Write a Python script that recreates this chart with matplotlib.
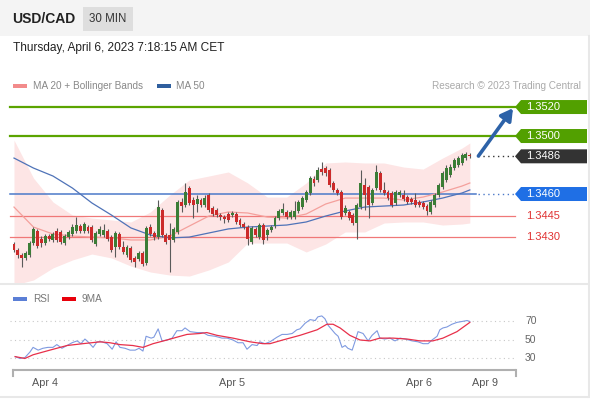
import matplotlib.pyplot as plt
from matplotlib import transforms
from matplotlib.patches import Polygon, Rectangle

plt.rcParams['font.family'] = ['Liberation Sans', 'DejaVu Sans']

# ---- candles (30 min bars) ----
opens = [1.34255, 1.34214, 1.34179, 1.34159, 1.34179, 1.34262, 1.34345, 1.34290, 1.34262, 1.34310,
         1.34283, 1.34345, 1.34338, 1.34262, 1.34303, 1.34324, 1.34345, 1.34379, 1.34345, 1.34372,
         1.34372, 1.34255, 1.34324, 1.34317, 1.34345, 1.34303, 1.34234, 1.34324, 1.34234, 1.34179,
         1.34228, 1.34159, 1.34152, 1.34193, 1.34124, 1.34372, 1.34331, 1.34303, 1.34490, 1.34317,
         1.34317, 1.34283, 1.34338, 1.34545, 1.34524, 1.34641, 1.34559, 1.34531, 1.34559, 1.34524,
         1.34593, 1.34503, 1.34490, 1.34455, 1.34441, 1.34462, 1.34455, 1.34462, 1.34421, 1.34393,
         1.34372, 1.34269, 1.34359, 1.34303, 1.34386, 1.34317, 1.34352, 1.34379, 1.34434, 1.34469,
         1.34476, 1.34441, 1.34441, 1.34483, 1.34510, 1.34559, 1.34607, 1.34703, 1.34697, 1.34772,
         1.34779, 1.34766, 1.34676, 1.34628, 1.34614, 1.34469, 1.34476, 1.34455, 1.34400, 1.34510,
         1.34662, 1.34648, 1.34538, 1.34641, 1.34745, 1.34628, 1.34614, 1.34607, 1.34538, 1.34593,
         1.34593, 1.34579, 1.34566, 1.34559, 1.34545, 1.34538, 1.34517, 1.34476, 1.34524, 1.34593,
         1.34648, 1.34697, 1.34731, 1.34779, 1.34800, 1.34814, 1.34848, 1.34869]
highs = [1.34269, 1.34228, 1.34193, 1.34207, 1.34276, 1.34372, 1.34359, 1.34310, 1.34324, 1.34324,
         1.34338, 1.34366, 1.34352, 1.34324, 1.34352, 1.34393, 1.34441, 1.34393, 1.34407, 1.34386,
         1.34386, 1.34345, 1.34379, 1.34393, 1.34359, 1.34317, 1.34345, 1.34338, 1.34276, 1.34248,
         1.34241, 1.34172, 1.34207, 1.34207, 1.34379, 1.34393, 1.34345, 1.34559, 1.34503, 1.34331,
         1.34400, 1.34372, 1.34559, 1.34572, 1.34676, 1.34655, 1.34579, 1.34593, 1.34572, 1.34593,
         1.34607, 1.34517, 1.34503, 1.34469, 1.34455, 1.34476, 1.34483, 1.34476, 1.34434, 1.34407,
         1.34386, 1.34379, 1.34372, 1.34400, 1.34400, 1.34366, 1.34386, 1.34448, 1.34497, 1.34538,
         1.34490, 1.34490, 1.34552, 1.34559, 1.34586, 1.34628, 1.34724, 1.34724, 1.34786, 1.34821,
         1.34793, 1.34779, 1.34690, 1.34641, 1.34628, 1.34524, 1.34490, 1.34469, 1.34538, 1.34766,
         1.34710, 1.34662, 1.34641, 1.34800, 1.34759, 1.34683, 1.34628, 1.34621, 1.34628, 1.34628,
         1.34628, 1.34593, 1.34579, 1.34607, 1.34559, 1.34552, 1.34531, 1.34559, 1.34607, 1.34676,
         1.34759, 1.34800, 1.34807, 1.34848, 1.34862, 1.34883, 1.34890, 1.34883]
lows = [1.34200, 1.34159, 1.34097, 1.34145, 1.34166, 1.34248, 1.34228, 1.34234, 1.34248, 1.34276,
        1.34269, 1.34269, 1.34255, 1.34248, 1.34290, 1.34310, 1.34331, 1.34331, 1.34331, 1.34331,
        1.34269, 1.34241, 1.34310, 1.34303, 1.34276, 1.34200, 1.34166, 1.34221, 1.34186, 1.34166,
        1.34131, 1.34097, 1.34138, 1.34103, 1.34110, 1.34310, 1.34283, 1.34290, 1.34303, 1.34255,
        1.34062, 1.34269, 1.34324, 1.34476, 1.34510, 1.34524, 1.34434, 1.34476, 1.34510, 1.34510,
        1.34476, 1.34448, 1.34441, 1.34421, 1.34400, 1.34407, 1.34441, 1.34393, 1.34372, 1.34359,
        1.34248, 1.34255, 1.34303, 1.34290, 1.34255, 1.34283, 1.34338, 1.34366, 1.34421, 1.34455,
        1.34428, 1.34428, 1.34428, 1.34469, 1.34497, 1.34545, 1.34593, 1.34655, 1.34683, 1.34731,
        1.34724, 1.34648, 1.34614, 1.34593, 1.34428, 1.34455, 1.34421, 1.34386, 1.34290, 1.34497,
        1.34490, 1.34434, 1.34524, 1.34628, 1.34614, 1.34593, 1.34559, 1.34510, 1.34524, 1.34579,
        1.34552, 1.34531, 1.34531, 1.34510, 1.34510, 1.34497, 1.34455, 1.34462, 1.34510, 1.34579,
        1.34634, 1.34683, 1.34717, 1.34766, 1.34786, 1.34800, 1.34834, 1.34848]
closes = [1.34214, 1.34179, 1.34159, 1.34193, 1.34262, 1.34359, 1.34241, 1.34262, 1.34310, 1.34290,
          1.34324, 1.34283, 1.34269, 1.34310, 1.34338, 1.34372, 1.34386, 1.34345, 1.34393, 1.34345,
          1.34283, 1.34331, 1.34359, 1.34352, 1.34290, 1.34214, 1.34331, 1.34234, 1.34200, 1.34234,
          1.34145, 1.34131, 1.34193, 1.34117, 1.34366, 1.34324, 1.34303, 1.34510, 1.34317, 1.34269,
          1.34283, 1.34359, 1.34545, 1.34517, 1.34614, 1.34538, 1.34524, 1.34566, 1.34524, 1.34572,
          1.34490, 1.34462, 1.34455, 1.34441, 1.34428, 1.34421, 1.34469, 1.34407, 1.34386, 1.34372,
          1.34290, 1.34366, 1.34317, 1.34386, 1.34283, 1.34352, 1.34372, 1.34434, 1.34483, 1.34497,
          1.34441, 1.34476, 1.34483, 1.34545, 1.34572, 1.34614, 1.34710, 1.34676, 1.34766, 1.34752,
          1.34745, 1.34662, 1.34628, 1.34607, 1.34441, 1.34503, 1.34434, 1.34400, 1.34524, 1.34676,
          1.34593, 1.34524, 1.34628, 1.34752, 1.34628, 1.34607, 1.34572, 1.34524, 1.34614, 1.34614,
          1.34566, 1.34545, 1.34545, 1.34524, 1.34524, 1.34510, 1.34483, 1.34545, 1.34593, 1.34662,
          1.34745, 1.34779, 1.34786, 1.34834, 1.34848, 1.34869, 1.34876, 1.34862]

# ---- MA 20 + Bollinger, MA 50 (read every 5 bars) ----
band_x = [0, 5, 10, 15, 20, 25, 30, 35, 40, 45, 50, 55, 60, 65, 70, 75, 80, 85, 90, 95, 100, 105, 110, 115, 117]
band_up = [1.34972, 1.34710, 1.34545, 1.34455, 1.34434, 1.34421, 1.34407, 1.34476, 1.34593, 1.34697,
           1.34724, 1.34752, 1.34676, 1.34579, 1.34579, 1.34676, 1.34814, 1.34821, 1.34814, 1.34814,
           1.34786, 1.34772, 1.34848, 1.34917, 1.34952]
band_lo = [1.33972, 1.34007, 1.34090, 1.34145, 1.34186, 1.34159, 1.34103, 1.34062, 1.34041, 1.34034,
           1.34076, 1.34131, 1.34262, 1.34262, 1.34262, 1.34200, 1.34255, 1.34338, 1.34338, 1.34400,
           1.34407, 1.34407, 1.34386, 1.34393, 1.34400]
ma20 = [1.34510, 1.34372, 1.34324, 1.34310, 1.34303, 1.34297, 1.34283, 1.34283, 1.34310, 1.34379,
        1.34448, 1.34476, 1.34469, 1.34441, 1.34434, 1.34462, 1.34531, 1.34572, 1.34572, 1.34572,
        1.34559, 1.34579, 1.34614, 1.34655, 1.34676]
ma50 = [1.34848, 1.34779, 1.34724, 1.34641, 1.34538, 1.34455, 1.34366, 1.34317, 1.34297, 1.34303,
        1.34331, 1.34359, 1.34372, 1.34379, 1.34386, 1.34407, 1.34448, 1.34483, 1.34510, 1.34517,
        1.34524, 1.34545, 1.34572, 1.34607, 1.34628]

# ---- RSI + 9MA ----
rsi_x = [0.3, 1.5, 2.8, 4.1, 4.9, 6.2, 7.4, 8.7, 10, 11, 12.3, 13.6, 14.9, 16.2, 17.2, 18.2, 19, 20.3,
         21.3, 22.6, 23.9, 25.2, 26.2, 27.2, 28.5, 29.8, 31.1, 32.1, 33.1, 33.9, 35.2, 35.9, 37, 38,
         39.3, 40.6, 41.8, 43.1, 43.9, 45.2, 47, 48.5, 49.8, 51.6, 53.4, 54.7, 56.2, 57.5, 58.8, 59.8,
         61.1, 62.4, 63.1, 64.4, 65.7, 67.5, 68.8, 70.1, 71.4, 72.6, 73.4, 74.7, 76, 77.3, 78, 79,
         79.8, 80.6, 81.6, 82.4, 83.2, 84.2, 85, 85.7, 86.8, 87.5, 88.3, 89.6, 90.9, 91.9, 93.2, 93.9,
         95.2, 96.5, 97.8, 99.1, 100.4, 102.2, 103.7, 105, 106.3, 107.3, 108.6, 109.3, 110.1, 111.1,
         112.4, 113.7, 115, 116.3, 117]
rsi = [32, 30, 31, 37, 42, 39, 41, 42, 42, 45, 41, 44, 47, 49, 46, 51, 48, 42,
       48, 48, 46, 40, 48, 42, 41, 39, 39, 41, 38, 54, 52, 53, 62, 49,
       50, 52, 60, 60, 63, 59, 58, 58, 55, 54, 52, 52, 50, 47, 47, 40,
       45, 44, 48, 46, 48, 53, 56, 56, 57, 61, 62, 68, 72, 71, 75, 76,
       73, 66, 61, 57, 54, 42, 44, 41, 39, 48, 59, 57, 49, 55, 60, 52,
       51, 52, 49, 52, 51, 49, 48, 46, 46, 50, 54, 61, 63, 64,
       67, 69, 70, 71, 70]
rsi_ma_x = [0.3, 2.8, 4.9, 9.2, 13.6, 17.7, 22.1, 24.6, 27.2, 30.5, 33.1, 35.7, 39.3, 41.8, 44.4,
            47.7, 49.5, 52.1, 56.2, 60.6, 63.9, 65.7, 69, 73.4, 77.8, 80.3, 81.9, 83.7, 86.2, 88.8,
            91.4, 93.9, 97.3, 100.9, 104.2, 107.5, 110.1, 113.7, 117]
rsi_ma = [32, 30, 34, 39, 44, 46, 48, 47, 45, 44, 42, 46, 50, 53, 56,
          57, 58, 55, 52, 48, 46, 46, 50, 55, 61, 67, 67, 63, 55, 50,
          49, 52, 52, 51, 49, 49, 52, 59, 69]

level_green = [1.3520, 1.3500]
level_last = 1.3486
level_blue = 1.3460
level_red = [1.3445, 1.3430]

day_ticks = [8, 56, 104, 121]
day_labels = ['Apr 4', 'Apr 5', 'Apr 6', 'Apr 9']

# ---- layout (pixels of a 590x400 image) ----
BAR_W = 3.896
X0 = 14


def px2bar(px):
    return (px - X0) / BAR_W


GREEN = '#3b7d36'
RED = '#cc2a2a'
WICK = '#5a5a5a'

fig = plt.figure(figsize=(5.9, 4.0), dpi=100)
ax_bg = fig.add_axes([0, 0, 1, 1], zorder=0)
ax_bg.set_xlim(0, 590)
ax_bg.set_ylim(400, 0)
ax_bg.axis('off')

ax_p = fig.add_axes([0, 1 - 282 / 400, 1, 187 / 400], zorder=1)
ax_p.set_facecolor('none')
ax_p.axis('off')
ax_p.set_xlim(px2bar(0), px2bar(590))
ax_p.set_ylim(1.33993, 1.35283)

ax_r = fig.add_axes([0, 1 - 368 / 400, 1, 63 / 400], zorder=1)
ax_r.set_facecolor('none')
ax_r.axis('off')
ax_r.set_xlim(px2bar(0), px2bar(590))
ax_r.set_ylim(19.7, 87.8)

# header
ax_bg.add_patch(Rectangle((0, 0), 590, 36, color='#f4f4f4', lw=0))
ax_bg.text(12, 19, 'USD/CAD', fontsize=10, fontweight='bold', color='#222', va='center')
ax_bg.add_patch(Rectangle((83, 7), 50, 24, color='#dedede', lw=0))
ax_bg.text(108, 19, '30 MIN', fontsize=8.3, color='#333', va='center', ha='center')
ax_bg.text(13, 48, 'Thursday, April 6, 2023 7:18:15 AM CET', fontsize=8.6, color='#222', va='center')

# legends
ax_bg.add_patch(Rectangle((13, 84), 14, 4, color='#f28b8b', lw=0))
ax_bg.text(33, 86, 'MA 20 + Bollinger Bands', fontsize=7.2, color='#888', va='center')
ax_bg.add_patch(Rectangle((157, 84), 14, 4, color='#2f5f9e', lw=0))
ax_bg.text(176, 86, 'MA 50', fontsize=7.2, color='#888', va='center')
ax_bg.text(581, 86, 'Research \u00a9 2023 Trading Central', fontsize=7.2, color='#aaa',
           va='center', ha='right')

ax_bg.add_patch(Rectangle((13, 297), 14, 4, color='#5b7fd6', lw=0))
ax_bg.text(33, 299, 'RSI', fontsize=7.2, color='#777', va='center')
ax_bg.add_patch(Rectangle((62, 297), 14, 4, color='#e8000b', lw=0))
ax_bg.text(82, 299, '9MA', fontsize=7.2, color='#777', va='center')

# frame lines
ax_bg.plot([0, 588], [284, 284], color='#e8e8e8', lw=1.5)
ax_bg.plot([0, 588], [397, 397], color='#e8e8e8', lw=1.5)
ax_bg.plot([588.5, 588.5], [36, 397], color='#e8e8e8', lw=1.5)

# x axis
ax_bg.plot([12, 516], [370, 370], color='#b0b0b0', lw=1.5, solid_capstyle='butt')
ax_bg.plot([12.5, 12.5], [370, 376], color='#b0b0b0', lw=1.5)
ax_bg.plot([515.5, 515.5], [370, 376], color='#b0b0b0', lw=1.5)
tr_lab = transforms.blended_transform_factory(ax_r.transData, fig.transFigure)
for t, lab in zip(day_ticks, day_labels):
    ax_r.text(t, 1 - 383 / 400, lab, transform=tr_lab, fontsize=7.8, color='#555',
              ha='center', va='center')

# bollinger + moving averages
ax_p.fill_between(band_x, band_lo, band_up, color='#fde5e5', lw=0, zorder=1)
ax_p.plot(band_x, ma20, color='#f4a09c', lw=0.9, zorder=3)
ax_p.plot(band_x, ma50, color='#4f73b8', lw=0.9, zorder=3)

# levels
xl0, xl1 = px2bar(10), px2bar(515)
xdot = px2bar(478)
for lv in level_green:
    ax_p.plot([xl0, xl1], [lv, lv], color='#5ba400', lw=1.6, zorder=2)
for lv in level_red:
    ax_p.plot([xl0, xl1], [lv, lv], color='#f07878', lw=0.9, zorder=2)
ax_p.plot([xl0, px2bar(476)], [level_blue, level_blue], color='#4b79c9', lw=1.1, zorder=2)
ax_p.plot([xdot, xl1], [level_blue, level_blue], color='#4b79c9', lw=1.0, ls=(0, (1, 2.5)), zorder=2)
ax_p.plot([xdot, xl1], [level_last, level_last], color='#333', lw=1.0, ls=(0, (1, 2.5)), zorder=2)

# candles
idx = list(range(len(closes)))
cols = [GREEN if c >= o else RED for o, c in zip(opens, closes)]
ax_p.vlines(idx, lows, highs, color=WICK, lw=0.8, zorder=4)
ax_p.bar(idx, [abs(c - o) for o, c in zip(opens, closes)],
         bottom=[min(o, c) for o, c in zip(opens, closes)],
         width=0.75, color=cols, lw=0, zorder=5)

# forecast arrow
ax_p.annotate('', xy=(px2bar(513), level_green[0] - 0.00008),
              xytext=(len(closes) + 1.2, closes[-1]),
              arrowprops=dict(arrowstyle='-|>,head_length=0.7,head_width=0.4',
                              color='#2d62a8', lw=2.6, shrinkA=0, shrinkB=0),
              zorder=6)

# price tags
tr_tag = transforms.blended_transform_factory(ax_p.transAxes, ax_p.transData)
H = 7 / 14500


def tag(price, face):
    a, b, c = 515 / 590, 521 / 590, 587 / 590
    ax_p.add_patch(Polygon([(a, price), (b, price + H), (c, price + H), (c, price - H), (b, price - H)],
                           closed=True, color=face, lw=0, transform=tr_tag, clip_on=False, zorder=7))
    ax_p.text(526 / 590, price, f'{price:.4f}', transform=tr_tag, fontsize=8, color='white',
              va='center', ha='left', zorder=8)


for lv in level_green:
    tag(lv, '#52a000')
tag(level_last, '#333333')
tag(level_blue, '#1f6fe5')
for lv in level_red:
    ax_p.text(526 / 590, lv, f'{lv:.4f}', transform=tr_tag, fontsize=8, color='#e03232',
              va='center', ha='left')

# RSI panel
for g in [70, 50, 30]:
    ax_r.plot([xl0, xl1], [g, g], color='#c8c8c8', lw=0.8, ls=(0, (1, 3)))
    ax_r.text(px2bar(525), g, str(g), fontsize=7.5, color='#666', va='center', ha='left')
ax_r.plot(rsi_x, rsi, color='#7f9ae0', lw=0.8)
ax_r.plot(rsi_ma_x, rsi_ma, color='#e8304a', lw=0.9)

fig.savefig('out.png', dpi=100)
